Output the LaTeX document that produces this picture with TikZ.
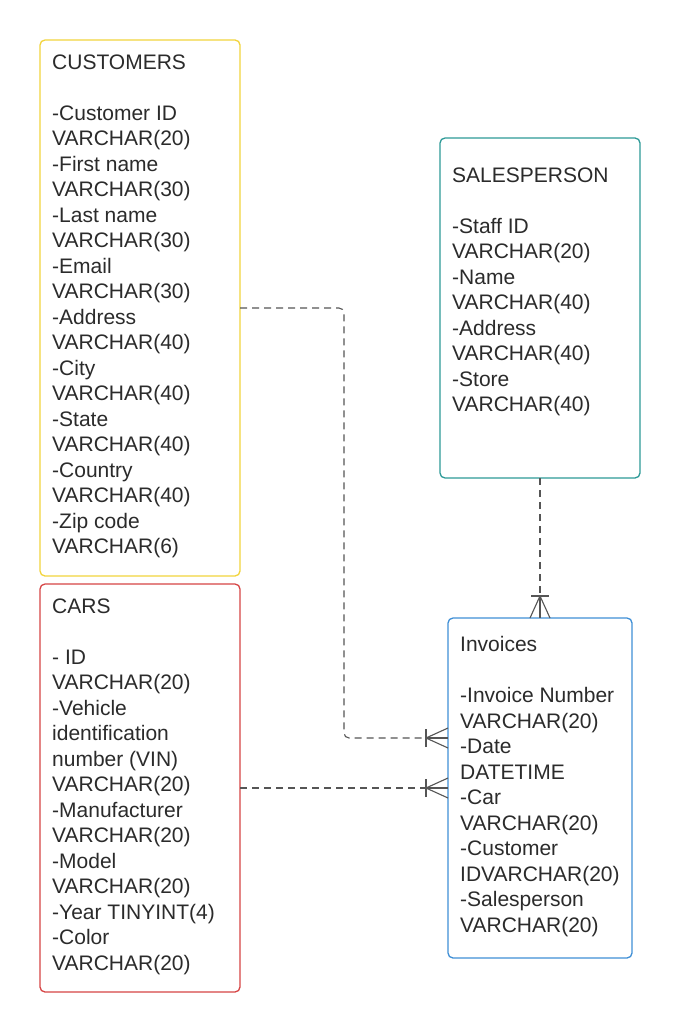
\documentclass[tikz,border=0pt]{standalone}
\usepackage{fontspec}
\setmainfont{Liberation Sans}
\definecolor{cyel}{HTML}{F2D43C}
\definecolor{cteal}{HTML}{2E9A98}
\definecolor{cred}{HTML}{D64545}
\definecolor{cblue}{HTML}{3F8FD6}
\definecolor{ctext}{HTML}{2B2B2B}
\definecolor{cline}{HTML}{555555}
\begin{document}
\begin{tikzpicture}[x=1pt,y=-1pt,
  entity/.style={draw,line width=1.3pt,rounded corners=5pt},
  txt/.style={anchor=north west,inner sep=0pt,align=left,text=ctext,
    font=\fontsize{21}{25.5}\selectfont},
  rel/.style={draw=cline,line width=1.1pt,dash pattern=on 7pt off 5pt},
  foot/.style={draw=cline,line width=1.1pt}]
\useasboundingbox[fill=white] (0,0) rectangle (680,1032);
% boxes
\draw[entity,cyel] (40,40) rectangle (240,576);
\coordinate (custR) at (240,308);
\draw[entity,cred] (40,584) rectangle (240,992);
\coordinate (carsR) at (240,788);
\draw[entity,cteal] (440,138) rectangle (640,478);
\coordinate (salB) at (540,478);
\draw[entity,cblue] (448,618) rectangle (632,958);
\coordinate (invL1) at (448,738);
\coordinate (invL2) at (448,788);
\coordinate (invT) at (540,618);
% texts
\node[txt] (tcust) at (52,54.5) {CUSTOMERS\\[25.5pt]-Customer ID\\VARCHAR(20)\\-First name\\VARCHAR(30)\\-Last name\\VARCHAR(30)\\-Email\\VARCHAR(30)\\-Address\\VARCHAR(40)\\-City\\VARCHAR(40)\\-State\\VARCHAR(40)\\-Country\\VARCHAR(40)\\-Zip code\\VARCHAR(6)};
\node[txt] (tcars) at (52,598.5) {CARS\\[25.5pt]- ID\\VARCHAR(20)\\-Vehicle\\identification\\number (VIN)\\VARCHAR(20)\\-Manufacturer\\VARCHAR(20)\\-Model\\VARCHAR(20)\\-Year TINYINT(4)\\-Color\\VARCHAR(20)};
\node[txt] (tsal) at (452,167.5) {SALESPERSON\\[25.5pt]-Staff ID\\VARCHAR(20)\\-Name\\VARCHAR(40)\\-Address\\VARCHAR(40)\\-Store\\VARCHAR(40)};
\node[txt] (tinv) at (460,636.5) {Invoices\\[25.5pt]-Invoice Number\\VARCHAR(20)\\-Date\\DATETIME\\-Car\\VARCHAR(20)\\-Customer\\IDVARCHAR(20)\\-Salesperson\\VARCHAR(20)};
% connectors
\draw[rel,rounded corners=5pt] (custR) -- (344,308) -- (344,738) -- (invL1);
\draw[rel] (carsR) -- (invL2);
\draw[rel] (salB) -- (invT);
% crow's feet
\foreach \c in {invL1,invL2}{
  \draw[foot] ([xshift=-22pt]\c) -- ([yshift=-10pt]\c);
  \draw[foot] ([xshift=-22pt]\c) -- ([yshift=10pt]\c);
  \draw[foot] ([xshift=-22pt]\c) -- (\c);
  \draw[foot] ([xshift=-22pt,yshift=-9pt]\c) -- ([xshift=-22pt,yshift=9pt]\c);
}
\draw[foot] ([yshift=22pt]invT) -- ([xshift=-10pt]invT);
\draw[foot] ([yshift=22pt]invT) -- ([xshift=10pt]invT);
\draw[foot] ([yshift=22pt]invT) -- (invT);
\draw[foot] ([xshift=-9pt,yshift=22pt]invT) -- ([xshift=9pt,yshift=22pt]invT);
\end{tikzpicture}
\end{document}
